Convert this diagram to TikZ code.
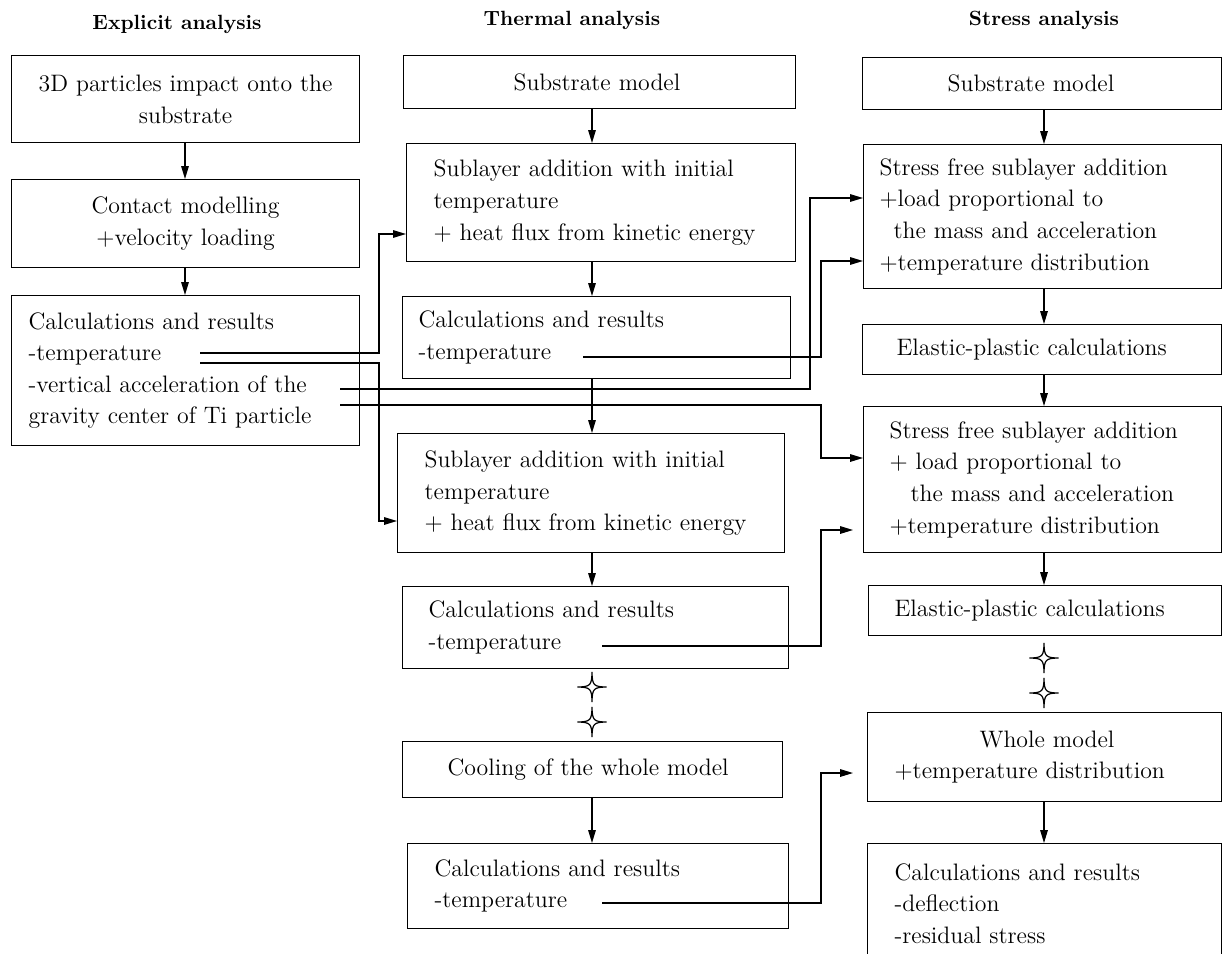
\documentclass[tikz,border=0pt]{standalone}
\usetikzlibrary{arrows.meta}
\newcommand\mybox[8]{%
  \pgfmathsetmacro\bxw{(#4-2*#6)*0.5}%
  \pgfmathsetmacro\bxp{#6*0.5}%
  \pgfmathsetmacro\bxh{#5*0.5}%
  \node[boxstyle, text width=\bxw pt, inner xsep=\bxp pt, minimum height=\bxh pt, align=#7, anchor=north west] (#1) at (#2,#3) {#8};%
}
\begin{document}
\begin{tikzpicture}[x=0.5pt,y=-0.5pt,
  boxstyle/.style={draw, line width=0.6pt, inner ysep=2pt, font=\fontsize{11.9}{15.8}\selectfont},
  head/.style={font=\fontsize{10.3}{12}\selectfont\bfseries, inner sep=0pt},
  arr/.style={line width=0.6pt, -{Triangle[length=6.5pt,width=3.8pt]}},
  fstar/.pic={\draw[line width=0.6pt, fill=white] (0,-15) .. controls (0.25,-1.6) and (1.6,-0.25) .. (14.5,0)
     .. controls (1.6,0.25) and (0.25,1.6) .. (0,15)
     .. controls (-0.25,1.6) and (-1.6,0.25) .. (-14.5,0)
     .. controls (-1.6,-0.25) and (-0.25,-1.6) .. (0,-15) -- cycle;}
]
\useasboundingbox (0,0) rectangle (1222,954);

% headings
\node[head] (hL) at (177,24) {Explicit analysis};
\node[head] (hM) at (572,20) {Thermal analysis};
\node[head] (hR) at (1044,20) {Stress analysis};

% column axes
\coordinate (colL) at (185,0);
\coordinate (colM) at (592,0);
\coordinate (colR) at (1044,0);

% left column
\mybox{L1}{11}{55}{348}{87}{5}{center}{3D particles impact onto the\\substrate}
\mybox{L2}{11}{179}{348}{88}{5}{center}{Contact modelling\\+velocity loading}
\mybox{L3}{11}{295}{348}{150}{17}{left}{Calculations and results\\-temperature\\-vertical acceleration of the\\gravity center of Ti particle}

% middle column
\mybox{M1}{403}{55}{392}{53}{110}{left}{Substrate model}
\mybox{M2}{406}{143}{389}{118}{27}{left}{Sublayer addition with initial\\temperature\\+ heat flux from kinetic energy}
\mybox{M3}{402}{296}{388}{82}{16}{left}{Calculations and results\\-temperature}
\mybox{M4}{397}{433}{387}{119}{27}{left}{Sublayer addition with initial\\temperature\\+ heat flux from kinetic energy}
\mybox{M5}{402}{586}{386}{82}{26}{left}{Calculations and results\\-temperature}
\mybox{M6}{402}{741}{380}{56}{45}{left}{Cooling of the whole model}
\mybox{M7}{407}{843}{381}{85}{27}{left}{Calculations and results\\-temperature}

% right column
\mybox{R1}{862}{57}{359}{52}{85}{left}{Substrate model}
\mybox{R2}{863}{144}{358}{144}{16}{left}{Stress free sublayer addition\\+load proportional to\\\hspace*{7pt}the mass and acceleration\\+temperature distribution}
\mybox{R3}{862}{324}{359}{50}{34}{left}{Elastic-plastic calculations}
\mybox{R4}{863}{406}{358}{146}{26}{left}{Stress free sublayer addition\\+ load proportional to\\\hspace*{10.5pt}the mass and acceleration\\+temperature distribution}
\mybox{R5}{868}{585}{353}{50}{26}{left}{Elastic-plastic calculations}
\mybox{R6}{867}{712}{354}{89}{27}{left}{\hspace*{42.5pt}Whole model\\+temperature distribution}
\mybox{R7}{867}{843}{354}{120}{27}{left}{Calculations and results\\-deflection\\-residual stress}

% vertical arrows
\draw[arr] (L1.south -| colL) -- (L2.north -| colL);
\draw[arr] (L2.south -| colL) -- (L3.north -| colL);
\draw[arr] (M1.south -| colM) -- (M2.north -| colM);
\draw[arr] (M2.south -| colM) -- (M3.north -| colM);
\draw[arr] (M3.south -| colM) -- (M4.north -| colM);
\draw[arr] (M4.south -| colM) -- (M5.north -| colM);
\draw[arr] (M6.south -| colM) -- (M7.north -| colM);
\draw[arr] (R1.south -| colR) -- (R2.north -| colR);
\draw[arr] (R2.south -| colR) -- (R3.north -| colR);
\draw[arr] (R3.south -| colR) -- (R4.north -| colR);
\draw[arr] (R4.south -| colR) -- (R5.north -| colR);
\draw[arr] (R6.south -| colR) -- (R7.north -| colR);

% stars
\pic (s1) at (592,687) {fstar};
\pic (s2) at (592,722) {fstar};
\pic (s3) at (1044,658) {fstar};
\pic (s4) at (1044,693) {fstar};

% connector points
\coordinate (t1) at (200,353); \coordinate (j1) at (379,234);
\coordinate (t2) at (200,363); \coordinate (j2) at (379,521);
\coordinate (t3) at (340,389); \coordinate (j3) at (810,198);
\coordinate (t4) at (340,405); \coordinate (j4) at (821,458);
\coordinate (t5) at (583,357); \coordinate (j5) at (821,261);
\coordinate (t6) at (602,646); \coordinate (j6) at (821,530); \coordinate (e6) at (853,530);
\coordinate (t7) at (602,903); \coordinate (j7) at (821,773); \coordinate (e7) at (853,773);

\draw[arr] (t1) -| (j1) -- (j1 -| M2.west);
\draw[arr] (t2) -| (j2) -- (j2 -| M4.west);
\draw[arr] (t3) -| (j3) -- (j3 -| R2.west);
\draw[arr] (t4) -| (j4) -- (j4 -| R4.west);
\draw[arr] (t5) -| (j5) -- (j5 -| R2.west);
\draw[arr] (t6) -| (j6) -- (e6);
\draw[arr] (t7) -| (j7) -- (e7);
\end{tikzpicture}
\end{document}
